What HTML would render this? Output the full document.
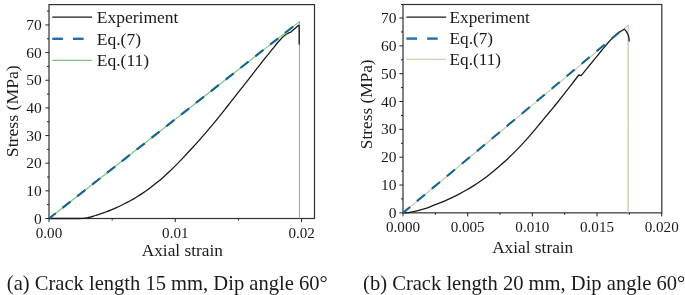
<!DOCTYPE html>
<html><head><meta charset="utf-8"><title>Figure</title>
<style>html,body{margin:0;padding:0;background:#fff;}svg{display:block}text{font-family:"Liberation Serif", "DejaVu Serif", serif;fill:#1a1a1a}</style>
</head><body>
<svg width="685" height="295" viewBox="0 0 685 295">
<rect width="685" height="295" fill="#fff"/>
<rect x="49" y="4.6" width="265.5" height="213.9" fill="none" stroke="#303030" stroke-width="1.2"/>
<line x1="45.4" x2="49" y1="218.50" y2="218.50" stroke="#222" stroke-width="1"/>
<text x="41.8" y="223.60" text-anchor="end" font-size="15.5">0</text>
<line x1="47" x2="49" y1="204.68" y2="204.68" stroke="#222" stroke-width="1"/>
<line x1="45.4" x2="49" y1="190.85" y2="190.85" stroke="#222" stroke-width="1"/>
<text x="41.8" y="195.95" text-anchor="end" font-size="15.5">10</text>
<line x1="47" x2="49" y1="177.03" y2="177.03" stroke="#222" stroke-width="1"/>
<line x1="45.4" x2="49" y1="163.20" y2="163.20" stroke="#222" stroke-width="1"/>
<text x="41.8" y="168.30" text-anchor="end" font-size="15.5">20</text>
<line x1="47" x2="49" y1="149.38" y2="149.38" stroke="#222" stroke-width="1"/>
<line x1="45.4" x2="49" y1="135.55" y2="135.55" stroke="#222" stroke-width="1"/>
<text x="41.8" y="140.65" text-anchor="end" font-size="15.5">30</text>
<line x1="47" x2="49" y1="121.73" y2="121.73" stroke="#222" stroke-width="1"/>
<line x1="45.4" x2="49" y1="107.90" y2="107.90" stroke="#222" stroke-width="1"/>
<text x="41.8" y="113.00" text-anchor="end" font-size="15.5">40</text>
<line x1="47" x2="49" y1="94.08" y2="94.08" stroke="#222" stroke-width="1"/>
<line x1="45.4" x2="49" y1="80.25" y2="80.25" stroke="#222" stroke-width="1"/>
<text x="41.8" y="85.35" text-anchor="end" font-size="15.5">50</text>
<line x1="47" x2="49" y1="66.42" y2="66.42" stroke="#222" stroke-width="1"/>
<line x1="45.4" x2="49" y1="52.60" y2="52.60" stroke="#222" stroke-width="1"/>
<text x="41.8" y="57.70" text-anchor="end" font-size="15.5">60</text>
<line x1="47" x2="49" y1="38.78" y2="38.78" stroke="#222" stroke-width="1"/>
<line x1="45.4" x2="49" y1="24.95" y2="24.95" stroke="#222" stroke-width="1"/>
<text x="41.8" y="30.05" text-anchor="end" font-size="15.5">70</text>
<line x1="47" x2="49" y1="11.13" y2="11.13" stroke="#222" stroke-width="1"/>
<line x1="49.00" x2="49.00" y1="218.5" y2="222.1" stroke="#222" stroke-width="1"/>
<text transform="translate(49.00,237.5) scale(1,1.02)" text-anchor="middle" font-size="15.1">0.00</text>
<line x1="175.30" x2="175.30" y1="218.5" y2="222.1" stroke="#222" stroke-width="1"/>
<text transform="translate(175.30,237.5) scale(1,1.02)" text-anchor="middle" font-size="15.1">0.01</text>
<line x1="301.60" x2="301.60" y1="218.5" y2="222.1" stroke="#222" stroke-width="1"/>
<text transform="translate(301.60,237.5) scale(1,1.02)" text-anchor="middle" font-size="15.1">0.02</text>
<line x1="112.15" x2="112.15" y1="218.5" y2="220.5" stroke="#222" stroke-width="1"/>
<line x1="238.45" x2="238.45" y1="218.5" y2="220.5" stroke="#222" stroke-width="1"/>
<text x="182.3" y="255.8" text-anchor="middle" font-size="17.3">Axial strain</text>
<text transform="translate(18.1,111.2) rotate(-90)" text-anchor="middle" font-size="17.7">Stress (MPa)</text>
<polyline points="49,218.5 299.5,21.6 299.5,218.5" fill="none" stroke="#7fbf7f" stroke-width="1.1" stroke-linejoin="miter"/>
<path d="M49,218.5 C54.00,218.50 73.33,218.53 79,218.5 C84.67,218.47 81.67,218.42 83,218.3 C84.33,218.18 85.78,218.00 87,217.8 C88.22,217.60 88.90,217.48 90.3,217.1 C91.70,216.72 93.70,216.03 95.4,215.5 C97.10,214.97 98.78,214.48 100.5,213.9 C102.22,213.32 103.98,212.63 105.7,212 C107.42,211.37 109.10,210.78 110.8,210.1 C112.50,209.42 114.20,208.67 115.9,207.9 C117.60,207.13 119.30,206.33 121,205.5 C122.70,204.67 124.40,203.78 126.1,202.9 C127.80,202.02 129.50,201.15 131.2,200.2 C132.90,199.25 134.50,198.30 136.3,197.2 C138.10,196.10 139.88,195.02 142.0,193.6 C144.12,192.18 146.67,190.41 149.0,188.7 C151.33,186.99 153.67,185.23 156.0,183.35 C158.33,181.47 160.67,179.46 163.0,177.4 C165.33,175.34 167.67,173.19 170.0,170.98 C172.33,168.77 174.67,166.47 177.0,164.12 C179.33,161.77 181.67,159.32 184.0,156.85 C186.33,154.38 188.67,151.84 191.0,149.3 C193.33,146.76 195.67,144.22 198.0,141.6 C200.33,138.98 202.67,136.30 205.0,133.6 C207.33,130.90 209.67,128.20 212.0,125.4 C214.33,122.60 216.67,119.70 219.0,116.8 C221.33,113.90 223.67,110.95 226.0,108.0 C228.33,105.05 230.67,102.07 233.0,99.1 C235.33,96.13 237.67,93.17 240.0,90.2 C242.33,87.23 244.67,84.28 247.0,81.3 C249.33,78.32 251.67,75.30 254.0,72.3 C256.33,69.30 258.67,66.25 261.0,63.3 C263.33,60.35 266.10,56.95 268.0,54.6 C269.90,52.25 270.52,51.50 272.4,49.2 C274.28,46.90 277.18,43.15 279.3,40.8 C281.42,38.45 283.65,36.33 285.1,35.1 C286.55,33.87 287.05,33.90 288,33.4 C288.95,32.90 290.33,32.32 290.8,32.1 L296.6,27 L298.6,25.2 L299.1,25.8 L299.2,44.4" fill="none" stroke="#1a1a1a" stroke-width="1.3" stroke-linejoin="round"/>
<line x1="49" y1="218.5" x2="294.6" y2="25.4" stroke="#17658f" stroke-width="2.2" stroke-dasharray="10.3 8.57" stroke-dashoffset="1.8"/>
<line x1="52.3" x2="92.1" y1="17.1" y2="17.1" stroke="#1a1a1a" stroke-width="1.2"/>
<text x="96.8" y="23.400000000000002" font-size="17.5">Experiment</text>
<line x1="52.3" x2="62.9" y1="38.8" y2="38.8" stroke="#1f6eb0" stroke-width="2.4"/>
<line x1="73.0" x2="83.6" y1="38.8" y2="38.8" stroke="#1f6eb0" stroke-width="2.4"/>
<text x="96.8" y="45.099999999999994" font-size="17.5">Eq.(7)</text>
<line x1="52.3" x2="92.1" y1="60.4" y2="60.4" stroke="#7fbf7f" stroke-width="1.1"/>
<text x="96.8" y="66.3" font-size="17.5">Eq.(11)</text>
<text x="6.8" y="289.6" font-size="20.55">(a) Crack length 15 mm, Dip angle 60°</text>
<rect x="403" y="4.5" width="258.79999999999995" height="208.35" fill="none" stroke="#303030" stroke-width="1.2"/>
<line x1="399.4" x2="403" y1="212.85" y2="212.85" stroke="#222" stroke-width="1"/>
<text x="396.5" y="217.95" text-anchor="end" font-size="15.5">0</text>
<line x1="401" x2="403" y1="198.94" y2="198.94" stroke="#222" stroke-width="1"/>
<line x1="399.4" x2="403" y1="185.02" y2="185.02" stroke="#222" stroke-width="1"/>
<text x="396.5" y="190.12" text-anchor="end" font-size="15.5">10</text>
<line x1="401" x2="403" y1="171.10" y2="171.10" stroke="#222" stroke-width="1"/>
<line x1="399.4" x2="403" y1="157.19" y2="157.19" stroke="#222" stroke-width="1"/>
<text x="396.5" y="162.29" text-anchor="end" font-size="15.5">20</text>
<line x1="401" x2="403" y1="143.28" y2="143.28" stroke="#222" stroke-width="1"/>
<line x1="399.4" x2="403" y1="129.36" y2="129.36" stroke="#222" stroke-width="1"/>
<text x="396.5" y="134.46" text-anchor="end" font-size="15.5">30</text>
<line x1="401" x2="403" y1="115.45" y2="115.45" stroke="#222" stroke-width="1"/>
<line x1="399.4" x2="403" y1="101.53" y2="101.53" stroke="#222" stroke-width="1"/>
<text x="396.5" y="106.63" text-anchor="end" font-size="15.5">40</text>
<line x1="401" x2="403" y1="87.62" y2="87.62" stroke="#222" stroke-width="1"/>
<line x1="399.4" x2="403" y1="73.70" y2="73.70" stroke="#222" stroke-width="1"/>
<text x="396.5" y="78.80" text-anchor="end" font-size="15.5">50</text>
<line x1="401" x2="403" y1="59.79" y2="59.79" stroke="#222" stroke-width="1"/>
<line x1="399.4" x2="403" y1="45.87" y2="45.87" stroke="#222" stroke-width="1"/>
<text x="396.5" y="50.97" text-anchor="end" font-size="15.5">60</text>
<line x1="401" x2="403" y1="31.96" y2="31.96" stroke="#222" stroke-width="1"/>
<line x1="399.4" x2="403" y1="18.04" y2="18.04" stroke="#222" stroke-width="1"/>
<text x="396.5" y="23.14" text-anchor="end" font-size="15.5">70</text>
<line x1="401" x2="403" y1="4.50" y2="4.50" stroke="#222" stroke-width="1"/>
<line x1="403.00" x2="403.00" y1="212.85" y2="216.45" stroke="#222" stroke-width="1"/>
<text transform="translate(403.00,231.85) scale(1,1.02)" text-anchor="middle" font-size="15.1">0.000</text>
<line x1="467.68" x2="467.68" y1="212.85" y2="216.45" stroke="#222" stroke-width="1"/>
<text transform="translate(467.68,231.85) scale(1,1.02)" text-anchor="middle" font-size="15.1">0.005</text>
<line x1="532.35" x2="532.35" y1="212.85" y2="216.45" stroke="#222" stroke-width="1"/>
<text transform="translate(532.35,231.85) scale(1,1.02)" text-anchor="middle" font-size="15.1">0.010</text>
<line x1="597.02" x2="597.02" y1="212.85" y2="216.45" stroke="#222" stroke-width="1"/>
<text transform="translate(597.02,231.85) scale(1,1.02)" text-anchor="middle" font-size="15.1">0.015</text>
<line x1="661.70" x2="661.70" y1="212.85" y2="216.45" stroke="#222" stroke-width="1"/>
<text transform="translate(661.70,231.85) scale(1,1.02)" text-anchor="middle" font-size="15.1">0.020</text>
<line x1="435.34" x2="435.34" y1="212.85" y2="214.85" stroke="#222" stroke-width="1"/>
<line x1="500.01" x2="500.01" y1="212.85" y2="214.85" stroke="#222" stroke-width="1"/>
<line x1="564.69" x2="564.69" y1="212.85" y2="214.85" stroke="#222" stroke-width="1"/>
<line x1="629.36" x2="629.36" y1="212.85" y2="214.85" stroke="#222" stroke-width="1"/>
<text x="532.7" y="252.5" text-anchor="middle" font-size="17.3">Axial strain</text>
<text transform="translate(372,104.3) rotate(-90)" text-anchor="middle" font-size="17.3">Stress (MPa)</text>
<polyline points="403,212.85 628.1,25.3 628.1,212.85" fill="none" stroke="#b3caa0" stroke-width="1.1" stroke-linejoin="miter"/>
<path d="M403.0,212.85 C403.58,212.83 405.33,212.82 406.5,212.75 C407.67,212.68 408.25,212.71 410.0,212.4 C411.75,212.09 414.67,211.48 417.0,210.9 C419.33,210.32 421.67,209.65 424.0,208.9 C426.33,208.15 428.67,207.27 431.0,206.4 C433.33,205.53 435.67,204.63 438.0,203.7 C440.33,202.77 442.67,201.82 445.0,200.8 C447.33,199.78 449.67,198.72 452.0,197.6 C454.33,196.48 456.67,195.32 459.0,194.1 C461.33,192.88 463.67,191.63 466.0,190.3 C468.33,188.97 470.67,187.57 473.0,186.1 C475.33,184.63 477.67,183.11 480.0,181.5 C482.33,179.89 484.67,178.22 487.0,176.45 C489.33,174.68 491.67,172.80 494.0,170.86 C496.33,168.92 498.67,166.89 501.0,164.82 C503.33,162.75 505.67,160.64 508.0,158.44 C510.33,156.24 512.67,153.95 515.0,151.6 C517.33,149.25 519.67,146.84 522.0,144.33 C524.33,141.82 526.67,139.23 529.0,136.56 C531.33,133.89 533.67,131.08 536.0,128.3 C538.33,125.52 540.67,122.70 543.0,119.9 C545.33,117.10 547.67,114.32 550.0,111.5 C552.33,108.68 554.67,105.88 557,103.0 C559.33,100.12 561.67,97.17 564,94.2 C566.33,91.23 568.67,88.23 571,85.2 C573.33,82.17 576.83,77.53 578.0,76.0 L578.9,75.0 L581.2,75.6  C582.25,74.30 585.37,70.42 587.5,67.8 C589.63,65.18 591.78,62.62 594,59.9 C596.22,57.18 598.80,53.93 600.8,51.5 C602.80,49.07 604.47,47.12 606,45.3 C607.53,43.48 608.63,42.08 610,40.6 C611.37,39.12 612.87,37.65 614.2,36.4 C615.53,35.15 616.78,34.05 618,33.1 C619.22,32.15 620.43,31.35 621.5,30.7 C622.57,30.05 623.92,29.45 624.4,29.2 L626.6,31.9 L628.3,35.2 L629.0,38.2 L629.2,41.5" fill="none" stroke="#1a1a1a" stroke-width="1.3" stroke-linejoin="round"/>
<line x1="403" y1="212.85" x2="621.5" y2="30.4" stroke="#17658f" stroke-width="2.2" stroke-dasharray="10.5 9.0" stroke-dashoffset="1.35"/>
<line x1="406.4" x2="446.2" y1="17.1" y2="17.1" stroke="#1a1a1a" stroke-width="1.2"/>
<text x="449.59999999999997" y="23.400000000000002" font-size="17.2">Experiment</text>
<line x1="406.4" x2="417.0" y1="38.6" y2="38.6" stroke="#1f6eb0" stroke-width="2.4"/>
<line x1="427.09999999999997" x2="437.7" y1="38.6" y2="38.6" stroke="#1f6eb0" stroke-width="2.4"/>
<text x="449.59999999999997" y="44.300000000000004" font-size="17.2">Eq.(7)</text>
<line x1="406.4" x2="446.2" y1="59.2" y2="59.2" stroke="#b3caa0" stroke-width="1.1"/>
<text x="449.59999999999997" y="64.9" font-size="17.2">Eq.(11)</text>
<text x="363.1" y="289.6" font-size="20.55">(b) Crack length 20 mm, Dip angle 60°</text>
</svg>
</body></html>
